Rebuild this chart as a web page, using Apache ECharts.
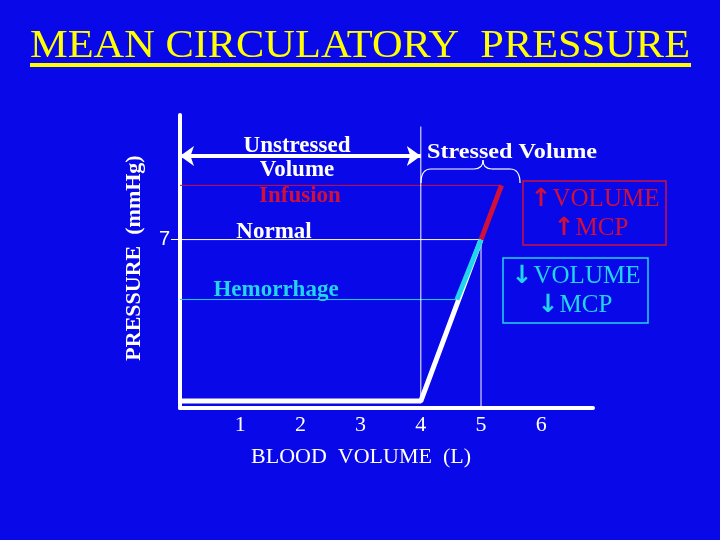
<!DOCTYPE html>
<html>
<head>
<meta charset="utf-8">
<script src="https://cdn.jsdelivr.net/npm/echarts@6/dist/echarts.min.js"></script>
<style>
  html, body { margin: 0; padding: 0; background: #0808e8; }
  #main { width: 720px; height: 540px; }
</style>
</head>
<body>
<div id="main"></div>
<script>
// blood volume (L) vs mean circulatory pressure (mmHg)
var xTicks = [1, 2, 3, 4, 5, 6];
var yTicks = [7];
var curve = [[0, 0], [4, 0], [5, 7]];          // normal compliance line
var infusion = [[5, 7], [5.34, 9.35]];         // red segment
var hemorrhage = [[4.6, 4.4], [5, 7]];         // cyan segment
var infusionLevel = [[0, 9.35], [5.34, 9.35]];
var normalLevel = [[0, 7], [5, 7]];
var hemLevel = [[0, 4.4], [4.6, 4.4]];
var unstressedEdge = [[4, 0], [4, 11.9]];
var normalDrop = [[5, -0.3], [5, 7]];
var unstressedArrow = [[0, 10.62], [4, 10.62]];

var RED = '#d0103a';
var CYAN = '#22d4ee';
var serif = 'Liberation Serif';

var chart = echarts.init(document.getElementById('main'));

function seg(data, color, width, z) {
    return {
        type: 'line', data: data, showSymbol: false, symbol: 'none',
        lineStyle: { color: color, width: width }, z: z || 2,
        silent: true, animation: false
    };
}

function txt(x, y, s, color, size, bold, sx) {
    return {
        type: 'text', x: x, y: y, scaleX: sx || 1,
        style: {
            text: s, fill: color, font: (bold ? 'bold ' : '') + size + 'px "' + serif + '"',
            align: 'center', verticalAlign: 'middle'
        }
    };
}

// box label with a big arrow glyph in front
function arrowTxt(x, y, arrow, s, color) {
    return {
        type: 'text', x: x, y: y,
        style: {
            text: '{a|' + arrow + '}{t|' + s + '}', fill: color,
            align: 'center', verticalAlign: 'middle',
            rich: {
                a: { fontFamily: 'DejaVu Sans', fontSize: 25, fontWeight: 'bold', fill: color, padding: [0, 1, 0, 0] },
                t: { fontFamily: serif, fontSize: 25, fill: color }
            }
        }
    };
}

function curl(x1, y1, cx, cy, x2, y2) {
    return {
        type: 'bezierCurve',
        shape: { x1: x1, y1: y1, cpx1: cx, cpy1: cy, x2: x2, y2: y2 },
        style: { stroke: '#ffffff', lineWidth: 1.2, fill: null }
    };
}

function hline(x1, x2, y) {
    return {
        type: 'line', shape: { x1: x1, y1: y, x2: x2, y2: y },
        style: { stroke: '#ffffff', lineWidth: 1.2 }
    };
}

var arrowSeries = seg([], '#ffffff', 4, 4);
arrowSeries.markLine = {
    silent: true, animation: false,
    symbol: ['arrow', 'arrow'], symbolSize: [15, 14],
    label: { show: false },
    lineStyle: { color: '#ffffff', width: 4, type: 'solid' },
    data: [[{ coord: unstressedArrow[0] }, { coord: unstressedArrow[1] }]]
};

option = {
    backgroundColor: '#0808e8',
    animation: false,
    grid: { left: 180, top: 115, width: 413, height: 293 },
    xAxis: {
        type: 'value', min: 0, max: 6.86, interval: 1,
        splitLine: { show: false },
        axisTick: { show: false },
        axisLine: { onZero: false, lineStyle: { color: '#ffffff', width: 4 } },
        axisLabel: {
            customValues: xTicks, margin: 6,
            color: '#ffffff', fontFamily: serif, fontSize: 22
        }
    },
    yAxis: {
        type: 'value', min: -0.3, max: 12.4,
        splitLine: { show: false },
        axisLine: { lineStyle: { color: '#ffffff', width: 4 } },
        axisTick: { show: true, customValues: yTicks, length: 9, lineStyle: { color: '#ffffff', width: 1 } },
        axisLabel: {
            customValues: yTicks, margin: 10,
            color: '#ffffff', fontFamily: 'Liberation Sans', fontSize: 20
        }
    },
    series: [
        seg(infusionLevel, RED, 1, 1),
        seg(normalLevel, '#ffffff', 1, 1),
        seg(hemLevel, CYAN, 1, 1),
        seg(unstressedEdge, '#ffffff', 1, 1),
        seg(normalDrop, '#ffffff', 1, 1),
        seg(curve, '#ffffff', 5, 3),
        seg(infusion, RED, 5, 4),
        seg(hemorrhage, CYAN, 5, 4),
        arrowSeries
    ],
    graphic: [
        txt(360, 46, 'MEAN CIRCULATORY  PRESSURE', '#ffff00', 40, false, 1.06),
        { type: 'rect', shape: { x: 30, y: 63, width: 661, height: 4 }, style: { fill: '#ffff00' } },
        {
            type: 'text', x: 134, y: 258, rotation: Math.PI / 2,
            style: {
                text: 'PRESSURE  (mmHg)', fill: '#ffffff', font: 'bold 22px "' + serif + '"',
                align: 'center', verticalAlign: 'middle'
            }
        },
        txt(297, 146, 'Unstressed', '#ffffff', 23, true),
        txt(297, 170, 'Volume', '#ffffff', 23, true),
        txt(300, 196, 'Infusion', RED, 23, true),
        txt(274, 232, 'Normal', '#ffffff', 23, true),
        txt(276, 290, 'Hemorrhage', CYAN, 23, true),
        txt(512, 152, 'Stressed Volume', '#ffffff', 22, true, 1.1),
        curl(421, 183, 421, 169, 431, 169),
        hline(431, 474, 169),
        curl(474, 169, 483, 169, 483, 160),
        curl(483, 160, 483, 169, 492, 169),
        hline(492, 510, 169),
        curl(510, 169, 520, 169, 520, 183),
        { type: 'rect', shape: { x: 523, y: 181, width: 143, height: 64 }, style: { fill: null, stroke: RED, lineWidth: 1.5 } },
        arrowTxt(595, 199, '\u2191', 'VOLUME', RED),
        arrowTxt(591, 228, '\u2191', 'MCP', RED),
        { type: 'rect', shape: { x: 503, y: 258, width: 145, height: 65 }, style: { fill: null, stroke: CYAN, lineWidth: 1.5 } },
        arrowTxt(576, 276, '\u2193', 'VOLUME', CYAN),
        arrowTxt(575, 305, '\u2193', 'MCP', CYAN),
        txt(361, 457, 'BLOOD  VOLUME  (L)', '#ffffff', 22, false)
    ]
};
chart.setOption(option);

window.onresize = function () {
    chart.resize();
};
</script>
</body>
</html>
